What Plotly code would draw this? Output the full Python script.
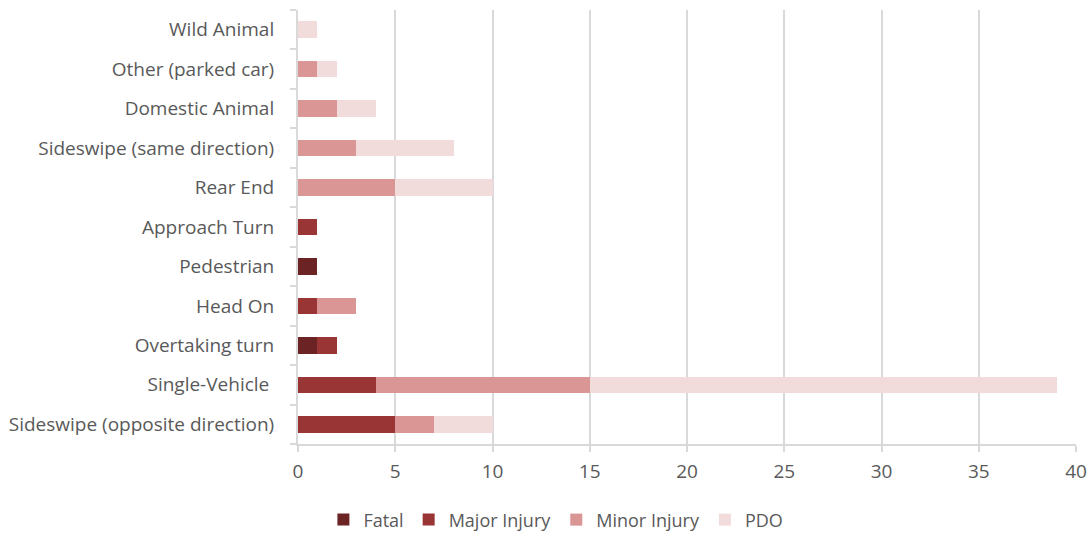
import plotly.graph_objects as go

categories = ["Sideswipe (opposite direction)", "Single-Vehicle ", "Overtaking turn", "Head On",
              "Pedestrian", "Approach Turn", "Rear End", "Sideswipe (same direction)",
              "Domestic Animal", "Other (parked car)", "Wild Animal"]
fatal = [0, 0, 1, 0, 1, 0, 0, 0, 0, 0, 0]
major = [5, 4, 1, 1, 0, 1, 0, 0, 0, 0, 0]
minor = [2, 11, 0, 2, 0, 0, 5, 3, 2, 1, 0]
pdo = [3, 24, 0, 0, 0, 0, 5, 5, 2, 1, 1]
x_ticks = [0, 5, 10, 15, 20, 25, 30, 35, 40]

series = [("Fatal", fatal, "#6B2323"), ("Major Injury", major, "#993535"),
          ("Minor Injury", minor, "#DA9694"), ("PDO", pdo, "#F2DCDB")]

fig = go.Figure()
for name, vals, col in series:
    fig.add_trace(go.Bar(y=categories, x=vals, name=name, orientation="h",
                         marker=dict(color=col, line=dict(width=0))))

fam = "Open Sans, sans-serif"
font = dict(family=fam, size=19, color="#595959")
fig.update_layout(
    barmode="stack", bargap=0.58,
    width=1090, height=536,
    margin=dict(l=298, r=14, t=10, b=92, autoexpand=False),
    plot_bgcolor="white", paper_bgcolor="white",
    font=font,
    legend=dict(orientation="h", xref="container", yref="container", x=0.51, xanchor="center",
                y=0.03, yanchor="middle",
                font=dict(family=fam, size=18, color="#595959"),
                itemwidth=30, traceorder="normal"),
    xaxis=dict(range=[0, 40], tickvals=x_ticks, showgrid=True, gridcolor="#D9D9D9", gridwidth=2,
               zeroline=False, showline=True, linecolor="#D9D9D9", linewidth=2,
               ticks="outside", ticklen=6, tickcolor="#D9D9D9", tickwidth=2,
               ticklabelstandoff=3, automargin=False),
    yaxis=dict(showline=True, linecolor="#D9D9D9", linewidth=2, ticks="outside", ticklen=6,
               tickcolor="#D9D9D9", tickwidth=2, tickson="boundaries", showgrid=False,
               ticklabelstandoff=18, automargin=False),
)
fig.write_html("out.html", config={"displayModeBar": False},
               post_script="document.body.style.margin='0';document.body.style.overflow='hidden';")
